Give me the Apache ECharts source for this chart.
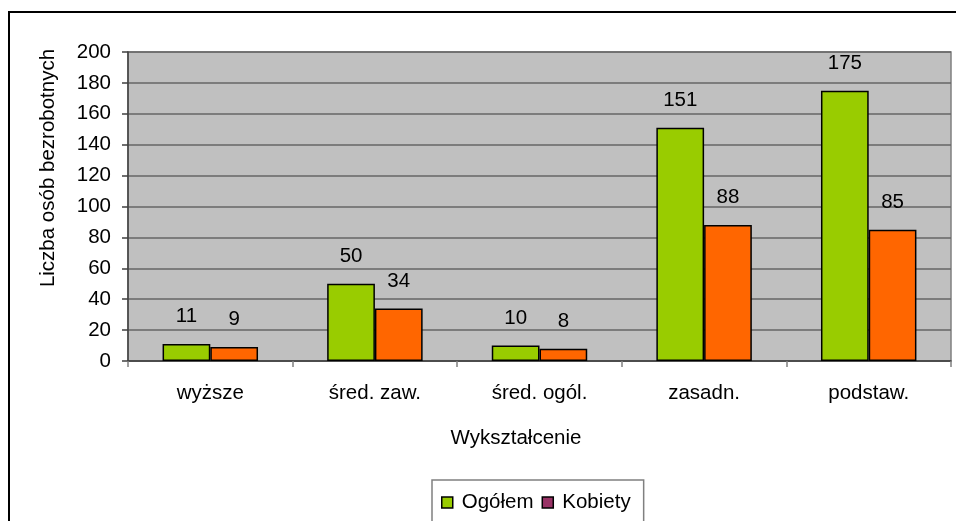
<!DOCTYPE html>
<html>
<head>
<meta charset="utf-8">
<script src="https://cdn.jsdelivr.net/npm/echarts@6/dist/echarts.min.js"></script>
<style>
html,body{margin:0;padding:0;background:#fff;}
#main{width:956px;height:521px;}
</style>
</head>
<body>
<div id="main"></div>
<script>
var categories = ['wyższe', 'śred. zaw.', 'śred. ogól.', 'zasadn.', 'podstaw.'];
var ogolem = [11, 50, 10, 151, 175];
var kobiety = [9, 34, 8, 88, 85];
var seriesNames = ['Ogółem', 'Kobiety'];
var yTitle = 'Liczba osób bezrobotnych';
var xTitle = 'Wykształcenie';

var FONT = '"Liberation Sans", Arial, sans-serif';
var FS = 20.5;
var chart = echarts.init(document.getElementById('main'));
chart.setOption({
  animation: false,
  textStyle: { fontFamily: FONT },
  grid: {
    left: 128, top: 52, right: 5, bottom: 160,
    show: true, backgroundColor: '#C0C0C0', borderColor: '#808080', borderWidth: 1.5
  },
  xAxis: {
    type: 'category',
    data: categories,
    axisLine: { lineStyle: { color: '#404040', width: 1.5 } },
    axisTick: { show: true, length: 6, lineStyle: { color: '#808080', width: 1.5 } },
    axisLabel: { color: '#000', fontSize: FS, fontFamily: FONT, margin: 22 }
  },
  yAxis: {
    type: 'value',
    min: 0, max: 200, interval: 20,
    axisLine: { show: true, lineStyle: { color: '#404040', width: 1.5 } },
    axisTick: { show: true, length: 6, lineStyle: { color: '#404040', width: 1.5 } },
    axisLabel: { color: '#000', fontSize: FS, fontFamily: FONT, margin: 17 },
    splitLine: { lineStyle: { color: '#666666', width: 1.6 } }
  },
  legend: {
    left: 432, top: 480,
    padding: [12, 13, 30, 9],
    borderColor: '#808080', borderWidth: 1.5,
    itemWidth: 11, itemHeight: 11, itemGap: 8,
    icon: 'rect',
    textStyle: { color: '#000', fontSize: FS, fontFamily: FONT, padding: [0, 0, 0, 4] },
    data: [
      { name: seriesNames[0], itemStyle: { color: '#99CC00', borderColor: '#000', borderWidth: 1.5 } },
      { name: seriesNames[1], itemStyle: { color: '#993366', borderColor: '#000', borderWidth: 1.5 } }
    ]
  },
  graphic: [
    { type: 'rect', shape: { x: 9, y: 12, width: 1000, height: 1000 },
      style: { fill: 'none', stroke: '#000', lineWidth: 2 }, silent: true },
    { type: 'text', x: 48, y: 168, rotation: Math.PI / 2,
      style: { text: yTitle, fontSize: FS, fontFamily: FONT, fill: '#000', align: 'center', verticalAlign: 'middle' } },
    { type: 'text', x: 516, y: 438,
      style: { text: xTitle, fontSize: FS, fontFamily: FONT, fill: '#000', align: 'center', verticalAlign: 'middle' } }
  ],
  series: [
    {
      name: seriesNames[0], type: 'bar', data: ogolem,
      barGap: '0%', barCategoryGap: '42%',
      itemStyle: { color: '#99CC00', borderColor: '#000', borderWidth: 1.5 },
      label: { show: true, position: 'top', distance: 17, color: '#000', fontSize: FS, fontFamily: FONT }
    },
    {
      name: seriesNames[1], type: 'bar', data: kobiety,
      barGap: '0%', barCategoryGap: '42%',
      itemStyle: { color: '#FF6600', borderColor: '#000', borderWidth: 1.5 },
      label: { show: true, position: 'top', distance: 17, color: '#000', fontSize: FS, fontFamily: FONT }
    }
  ]
});
</script>
</body>
</html>
